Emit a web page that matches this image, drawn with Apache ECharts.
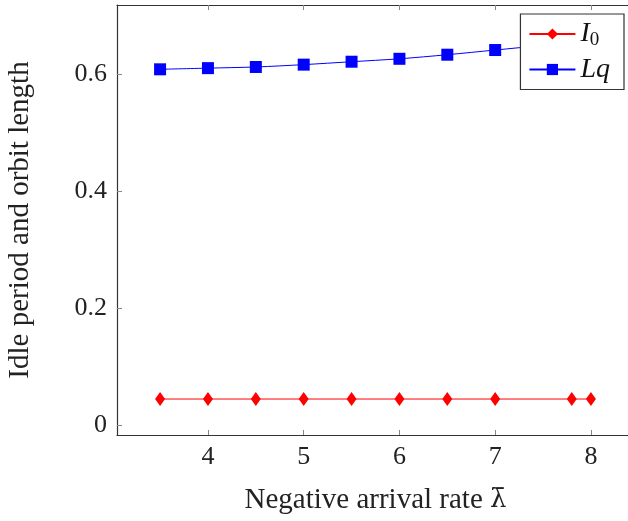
<!DOCTYPE html>
<html lang="en">
<head>
  <meta charset="UTF-8">
  <title>Idle period and orbit length</title>
  <script src="https://cdn.jsdelivr.net/npm/echarts@6/dist/echarts.min.js"></script>
  <style>
    html, body { margin: 0; padding: 0; background: #fff; }
    #chart { width: 628px; height: 521px; }
  </style>
</head>
<body>
  <div id="chart"></div>
  <script>
    // values
    const lqX = [3.5, 4, 4.5, 5, 5.5, 6, 6.5, 7, 7.5, 8];
    const lqY = [0.609, 0.611, 0.613, 0.617, 0.622, 0.627, 0.634, 0.642, 0.650, 0.658];
    const i0X = [3.5, 4, 4.5, 5, 5.5, 6, 6.5, 7, 7.8, 8];
    const i0Y = [0.0445, 0.0445, 0.0445, 0.0445, 0.0445, 0.0445, 0.0445, 0.0445, 0.0445, 0.0445];
    const xTicks = [4, 5, 6, 7, 8];
    const yTicks = [0, 0.2, 0.4, 0.6];

    const font = '"Liberation Serif", "DejaVu Serif", serif';
    const xMin = 3.05, xMax = 8.45;
    const yMin = -0.0171, yMax = 0.7191;

    const chart = echarts.init(document.getElementById('chart'));

    function axisX(pos, showLabel) {
      return {
        type: 'value', position: pos, min: xMin, max: xMax,
        axisLine: { show: true, onZero: false, lineStyle: { color: '#333', width: 1.2 } },
        axisTick: { show: true, inside: true, length: 5, customValues: xTicks, lineStyle: { color: '#888' } },
        axisLabel: { show: showLabel, customValues: xTicks, margin: 9, fontFamily: font, fontSize: 26, color: '#222' },
        splitLine: { show: false },
        name: showLabel ? '{t|Negative arrival rate }{l|\u03BB\u0304}' : '',
        nameLocation: 'middle', nameGap: 51,
        nameTextStyle: {
          fontFamily: font, fontSize: 29, color: '#222',
          rich: {
            t: { fontFamily: font, fontSize: 29, color: '#222' },
            l: { fontFamily: '"DejaVu Serif", serif', fontSize: 26, color: '#222' }
          }
        }
      };
    }
    function axisY(pos, showLabel) {
      return {
        type: 'value', position: pos, min: yMin, max: yMax,
        axisLine: { show: true, onZero: false, lineStyle: { color: '#333', width: 1.2 } },
        axisTick: { show: true, inside: true, length: 5, customValues: yTicks, lineStyle: { color: '#888' } },
        axisLabel: { show: showLabel, customValues: yTicks, margin: 10, fontFamily: font, fontSize: 26, color: '#222',
          formatter: v => String(Math.round(v * 10) / 10) },
        splitLine: { show: false },
        name: showLabel ? 'Idle period and orbit length' : '',
        nameLocation: 'middle', nameGap: 82,
        nameTextStyle: { fontFamily: font, fontSize: 29, color: '#222' }
      };
    }

    chart.setOption({
      animation: false,
      backgroundColor: '#fff',
      grid: { left: 117, top: 5, width: 517, bottom: 86, outerBoundsMode: 'none' },
      xAxis: [axisX('bottom', true), axisX('top', false)],
      yAxis: [axisY('left', true), axisY('right', false)],
      legend: {
        right: 4, top: 14, orient: 'vertical',
        backgroundColor: '#fff', borderColor: '#333', borderWidth: 1.2,
        padding: [6, 14, 6, 8], itemGap: 6, itemWidth: 46, itemHeight: 14,
        z: 10,
        data: ['I0', 'Lq'],
        formatter: n => n === 'I0' ? '{i|I}{s|0}' : '{i|Lq}',
        textStyle: {
          rich: {
            i: { fontFamily: font, fontStyle: 'italic', fontSize: 28, color: '#111' },
            s: { fontFamily: font, fontSize: 19, color: '#111', padding: [12, 0, 0, 0] }
          }
        }
      },
      series: [
        {
          name: 'I0', type: 'line',
          data: i0X.map((x, i) => [x, i0Y[i]]),
          symbol: 'diamond', symbolSize: [10, 14],
          itemStyle: { color: '#ff0000' },
          lineStyle: { color: '#ff0000', width: 1 }
        },
        {
          name: 'Lq', type: 'line', smooth: 0.3,
          data: lqX.map((x, i) => [x, lqY[i]]),
          symbol: 'rect', symbolSize: 12,
          itemStyle: { color: '#0000ff' },
          lineStyle: { color: '#0000ff', width: 1 }
        }
      ]
    });
  </script>
</body>
</html>
